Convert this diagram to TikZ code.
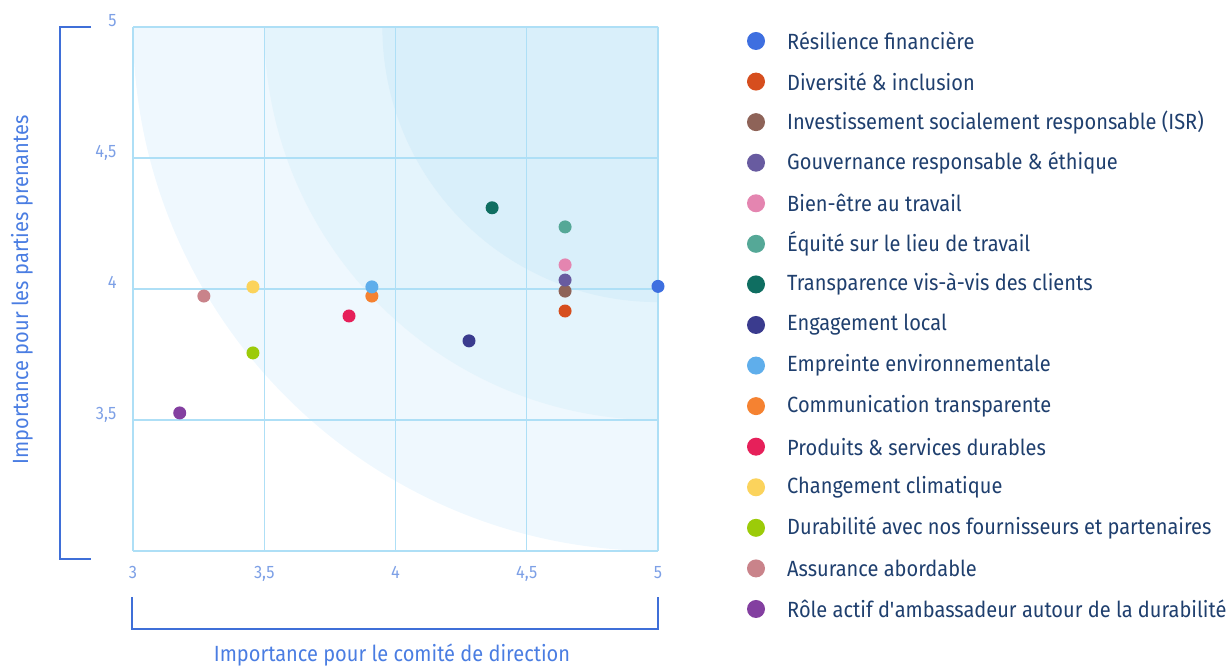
\documentclass[tikz,border=0pt]{standalone}
\usepackage{fontspec}
\setmainfont{Fira Sans}[FakeStretch=0.91]
\definecolor{bandA}{HTML}{EFF8FE}
\definecolor{bandB}{HTML}{E4F4FC}
\definecolor{bandC}{HTML}{D9EFFA}
\definecolor{gridblue}{HTML}{AEDFF6}
\definecolor{ticklbl}{HTML}{7DA0E6}
\definecolor{axisblue}{HTML}{3F6FD8}
\definecolor{titleblue}{HTML}{4A7DE2}
\definecolor{textnavy}{HTML}{1F3F6E}
\definecolor{cResil}{HTML}{3E6FE0}
\definecolor{cDivers}{HTML}{D64E1E}
\definecolor{cISR}{HTML}{8E6358}
\definecolor{cGouv}{HTML}{685BA0}
\definecolor{cBien}{HTML}{E485B0}
\definecolor{cEquit}{HTML}{55A897}
\definecolor{cTransp}{HTML}{0F6E61}
\definecolor{cEngag}{HTML}{3A3B8E}
\definecolor{cEmpr}{HTML}{5FAEEB}
\definecolor{cComm}{HTML}{F58231}
\definecolor{cProd}{HTML}{E6205A}
\definecolor{cClim}{HTML}{FBD35C}
\definecolor{cFourn}{HTML}{9CCB09}
\definecolor{cAssur}{HTML}{C9838A}
\definecolor{cAmbas}{HTML}{833FA0}
\tikzset{
  dot/.style={circle, fill=#1, inner sep=0pt, minimum size=13pt},
  legdot/.style={circle, fill=#1, inner sep=0pt, minimum size=18pt},
  ticklabel/.style={text=ticklbl, font=\fontsize{18}{20}\selectfont},
  bracket/.style={axisblue, line width=2.2pt}
}
\begin{document}
\begin{tikzpicture}[x=1pt, y=1pt]
\useasboundingbox (0,0) rectangle (1229,666);
% plot area, in data units
\begin{scope}[x=262.5pt, y=262pt, xshift=133pt, yshift=115pt, shift={(-3,-3)}]
  \begin{scope}
    \clip (3,3) rectangle (5,5);
    \fill[bandA] (5,5) circle (2);
    \fill[bandB] (5,5) circle (1.5);
    \fill[bandC] (5,5) circle (1.05);
  \end{scope}
  \foreach \v in {3,3.5,4,4.5,5} {
    \draw[gridblue, line width=1.2pt] (\v,3) -- (\v,5)
                                      (3,\v) -- (5,\v);
  }
  \foreach \v/\l in {3.5/{3,5}, 4/4, 4.5/{4,5}, 5/5}
    \node[ticklabel, anchor=base east, xshift=-13pt] (ylab\l) at (3,\v) {\l};
  \foreach \v/\l in {3/3, 3.5/{3,5}, 4/4, 4.5/{4,5}, 5/5}
    \node[ticklabel, anchor=base, yshift=-28pt] (xlab\l) at (\v,3) {\l};
  % points
  \node[dot=cResil]  (resil)  at (5.000,4.010) {};
  \node[dot=cDivers] (divers) at (4.646,3.916) {};
  \node[dot=cISR]    (isr)    at (4.646,3.992) {};
  \node[dot=cBien]   (bien)   at (4.646,4.092) {};
  \node[dot=cGouv]   (gouv)   at (4.646,4.034) {};
  \node[dot=cEquit]  (equit)  at (4.646,4.237) {};
  \node[dot=cTransp] (transp) at (4.368,4.310) {};
  \node[dot=cEngag]  (engag)  at (4.280,3.802) {};
  \node[dot=cComm]   (comm)   at (3.910,3.973) {};
  \node[dot=cEmpr]   (empr)   at (3.910,4.008) {};
  \node[dot=cProd]   (prod)   at (3.823,3.897) {};
  \node[dot=cClim]   (clim)   at (3.457,4.008) {};
  \node[dot=cFourn]  (fourn)  at (3.457,3.756) {};
  \node[dot=cAssur]  (assur)  at (3.270,3.973) {};
  \node[dot=cAmbas]  (ambas)  at (3.178,3.527) {};
\end{scope}
% axis brackets and titles
\draw[bracket] (91,639) -- (60,639) -- (60,107) -- (91,107);
\draw[bracket] (132,69) -- (132,37) -- (658,37) -- (658,69);
\node[text=titleblue, font=\fontsize{22}{24}\selectfont, rotate=90] (ytitle) at (22,376)
  {Importance pour les parties prenantes};
\node[text=titleblue, font=\fontsize{22}{24}\selectfont] (xtitle) at (392,11)
  {Importance pour le comité de direction};
% legend
\foreach \c/\t [count=\i] in {
    cResil/{Résilience financière},
    cDivers/{Diversité \& inclusion},
    cISR/{Investissement socialement responsable (ISR)},
    cGouv/{Gouvernance responsable \& éthique},
    cBien/{Bien-être au travail},
    cEquit/{Équité sur le lieu de travail},
    cTransp/{Transparence vis-à-vis des clients},
    cEngag/{Engagement local},
    cEmpr/{Empreinte environnementale},
    cComm/{Communication transparente},
    cProd/{Produits \& services durables},
    cClim/{Changement climatique},
    cFourn/{Durabilité avec nos fournisseurs et partenaires},
    cAssur/{Assurance abordable},
    cAmbas/{Rôle actif d\textquotesingle ambassadeur autour de la durabilité}} {
  \node[legdot=\c] (leg\i) at (756,{625-(\i-1)*40.57}) {};
  \node[anchor=west, text=textnavy, font=\fontsize{22}{24}\selectfont, inner sep=0pt]
    (legtext\i) at (787,{625-(\i-1)*40.57}) {\t};
}
\end{tikzpicture}
\end{document}
